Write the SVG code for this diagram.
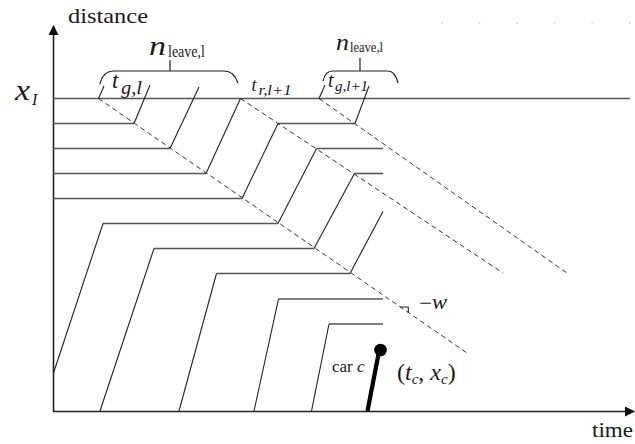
<svg xmlns="http://www.w3.org/2000/svg" width="635" height="444" viewBox="0 0 635 444">
<style>
.ax{stroke:#222;stroke-width:1.6;fill:none}
.h{stroke:#555;stroke-width:1.6;fill:none}
.r{stroke:#222;stroke-width:1.1;fill:none}
.d{stroke:#333;stroke-width:1;stroke-dasharray:5 3.5;fill:none}
.br{stroke:#222;stroke-width:1.2;fill:none}
text{font-family:"Liberation Serif","Times New Roman",serif;fill:#1a1a1a}
.it{font-style:italic}
</style>
<defs>
<marker id="arr" markerWidth="10" markerHeight="10" refX="9" refY="5" orient="auto" markerUnits="userSpaceOnUse">
<path d="M0,0 L10,5 L0,10 Z" fill="#111"/>
</marker>
</defs>
<rect width="635" height="444" fill="#fff"/>
<g id="axes">
<line class="ax" x1="53.5" y1="412" x2="53.5" y2="26" marker-end="url(#arr)"/>
<line class="ax" x1="53" y1="411.5" x2="634" y2="411.5" marker-end="url(#arr)"/>
<text x="68" y="23" font-size="22" textLength="80" lengthAdjust="spacingAndGlyphs">distance</text>
<text x="592" y="437" font-size="22" textLength="41" lengthAdjust="spacingAndGlyphs">time</text>
<text x="15" y="100" font-size="29" class="it" textLength="15" lengthAdjust="spacingAndGlyphs">x</text>
<text x="32" y="105" font-size="16" class="it">I</text>
</g>
<g id="dots" fill="#bbb">
<rect x="441.5" y="22.5" width="1.2" height="1.2"/><rect x="479" y="22.5" width="1.2" height="1.2"/><rect x="516.5" y="22.5" width="1.2" height="1.2"/><rect x="554" y="22.5" width="1.2" height="1.2"/><rect x="591.5" y="22.5" width="1.2" height="1.2"/><rect x="629" y="22.5" width="1.2" height="1.2"/>
</g>
<g id="connectors">
<line class="h" x1="53" y1="98.5" x2="630" y2="98.5"/>
<line class="h" x1="53" y1="123.5" x2="134" y2="123.5"/>
<line class="h" x1="278" y1="123.5" x2="355" y2="123.5"/>
<line class="h" x1="53" y1="148.5" x2="170" y2="148.5"/>
<line class="h" x1="316.5" y1="148.5" x2="383" y2="148.5"/>
<line class="h" x1="53" y1="173.5" x2="206" y2="173.5"/>
<line class="h" x1="354.5" y1="173.5" x2="383" y2="173.5"/>
<line class="h" x1="53" y1="198.5" x2="242" y2="198.5"/>
<line class="h" x1="103" y1="223.5" x2="278" y2="223.5"/>
<line class="h" x1="154" y1="248.5" x2="314" y2="248.5"/>
<line class="h" x1="216.5" y1="273.5" x2="350" y2="273.5"/>
<line class="h" x1="278.5" y1="299" x2="383" y2="299"/>
<line class="h" x1="329" y1="324" x2="383" y2="324"/>
<line class="r" x1="53.5" y1="373" x2="103" y2="223.5"/>
<line class="r" x1="100" y1="411" x2="154" y2="248.5"/>
<line class="r" x1="179" y1="411" x2="216.5" y2="273.5"/>
<line class="r" x1="254" y1="411" x2="278.5" y2="299"/>
<line class="r" x1="311.5" y1="411" x2="329" y2="324"/>
<line class="r" x1="134" y1="123.5" x2="150" y2="85"/>
<line class="r" x1="170" y1="148.5" x2="199" y2="87"/>
<line class="r" x1="206" y1="173.5" x2="240.5" y2="98.5"/>
<line class="r" x1="242" y1="198.5" x2="278" y2="123.5"/>
<line class="r" x1="278" y1="223.5" x2="316.5" y2="148.5"/>
<line class="r" x1="314" y1="248.5" x2="354.5" y2="173.5"/>
<line class="r" x1="350" y1="273.5" x2="383" y2="211.5"/>
<line class="r" x1="355" y1="123.5" x2="369" y2="86"/>
<line class="r" x1="98.5" y1="98.5" x2="104" y2="86"/>
<line class="r" x1="319" y1="98.5" x2="325" y2="85"/>
<line class="d" x1="98.5" y1="98.5" x2="467" y2="353"/>
<line class="d" x1="240.5" y1="98.5" x2="503" y2="273"/>
<line class="d" x1="319" y1="98.5" x2="567" y2="273"/>
<polyline class="r" points="400,307 408.3,307 408.3,312.6"/>
</g>
<g id="brace1">
<path class="br" d="M100,84 Q103,71 114,71 L224,71 Q234,71 238,83"/>
<line class="br" x1="170" y1="71" x2="170" y2="60"/>
<text x="149" y="55" font-size="28" class="it" textLength="17" lengthAdjust="spacingAndGlyphs">n</text>
<text x="168" y="57" font-size="17" textLength="37" lengthAdjust="spacingAndGlyphs">leave,l</text>
</g>
<g id="brace2">
<path class="br" d="M323,81 Q325,71 333,71 L388,71 Q395,71 398,83"/>
<line class="br" x1="360" y1="71" x2="360" y2="58"/>
<text x="336" y="50" font-size="23" class="it" textLength="13" lengthAdjust="spacingAndGlyphs">n</text>
<text x="350" y="52" font-size="15" textLength="33" lengthAdjust="spacingAndGlyphs">leave,l</text>
</g>
<g id="label-tgl">
<text x="112" y="88" font-size="23" class="it">t</text>
<text x="121" y="94" font-size="18" class="it" textLength="21" lengthAdjust="spacingAndGlyphs">g,l</text>
</g>
<g id="label-trl1">
<text x="251.5" y="91" font-size="18" class="it">t</text>
<text x="258.5" y="95" font-size="14" class="it" textLength="33" lengthAdjust="spacingAndGlyphs">r,l+1</text>
</g>
<g id="label-tgl1">
<text x="328" y="87" font-size="20" class="it">t</text>
<text x="335" y="91" font-size="14" class="it" textLength="33" lengthAdjust="spacingAndGlyphs">g,l+1</text>
</g>
<g id="label-w">
<text x="419" y="309" font-size="18" textLength="13" lengthAdjust="spacingAndGlyphs">−</text>
<text x="432" y="309" font-size="20" class="it" textLength="15" lengthAdjust="spacingAndGlyphs">w</text>
</g>
<g id="car-c">
<line x1="367.5" y1="411" x2="378.5" y2="354" stroke="#000" stroke-width="4.2"/>
<circle cx="380.5" cy="350" r="6.3" fill="#000"/>
<text x="332" y="372" font-size="17">car <tspan class="it">c</tspan></text>
<text x="397" y="380" font-size="24">(<tspan class="it">t</tspan><tspan class="it" font-size="15" dy="4">c</tspan><tspan dy="-4">, </tspan><tspan class="it">x</tspan><tspan class="it" font-size="15" dy="4">c</tspan><tspan dy="-4">)</tspan></text>
</g>
</svg>
